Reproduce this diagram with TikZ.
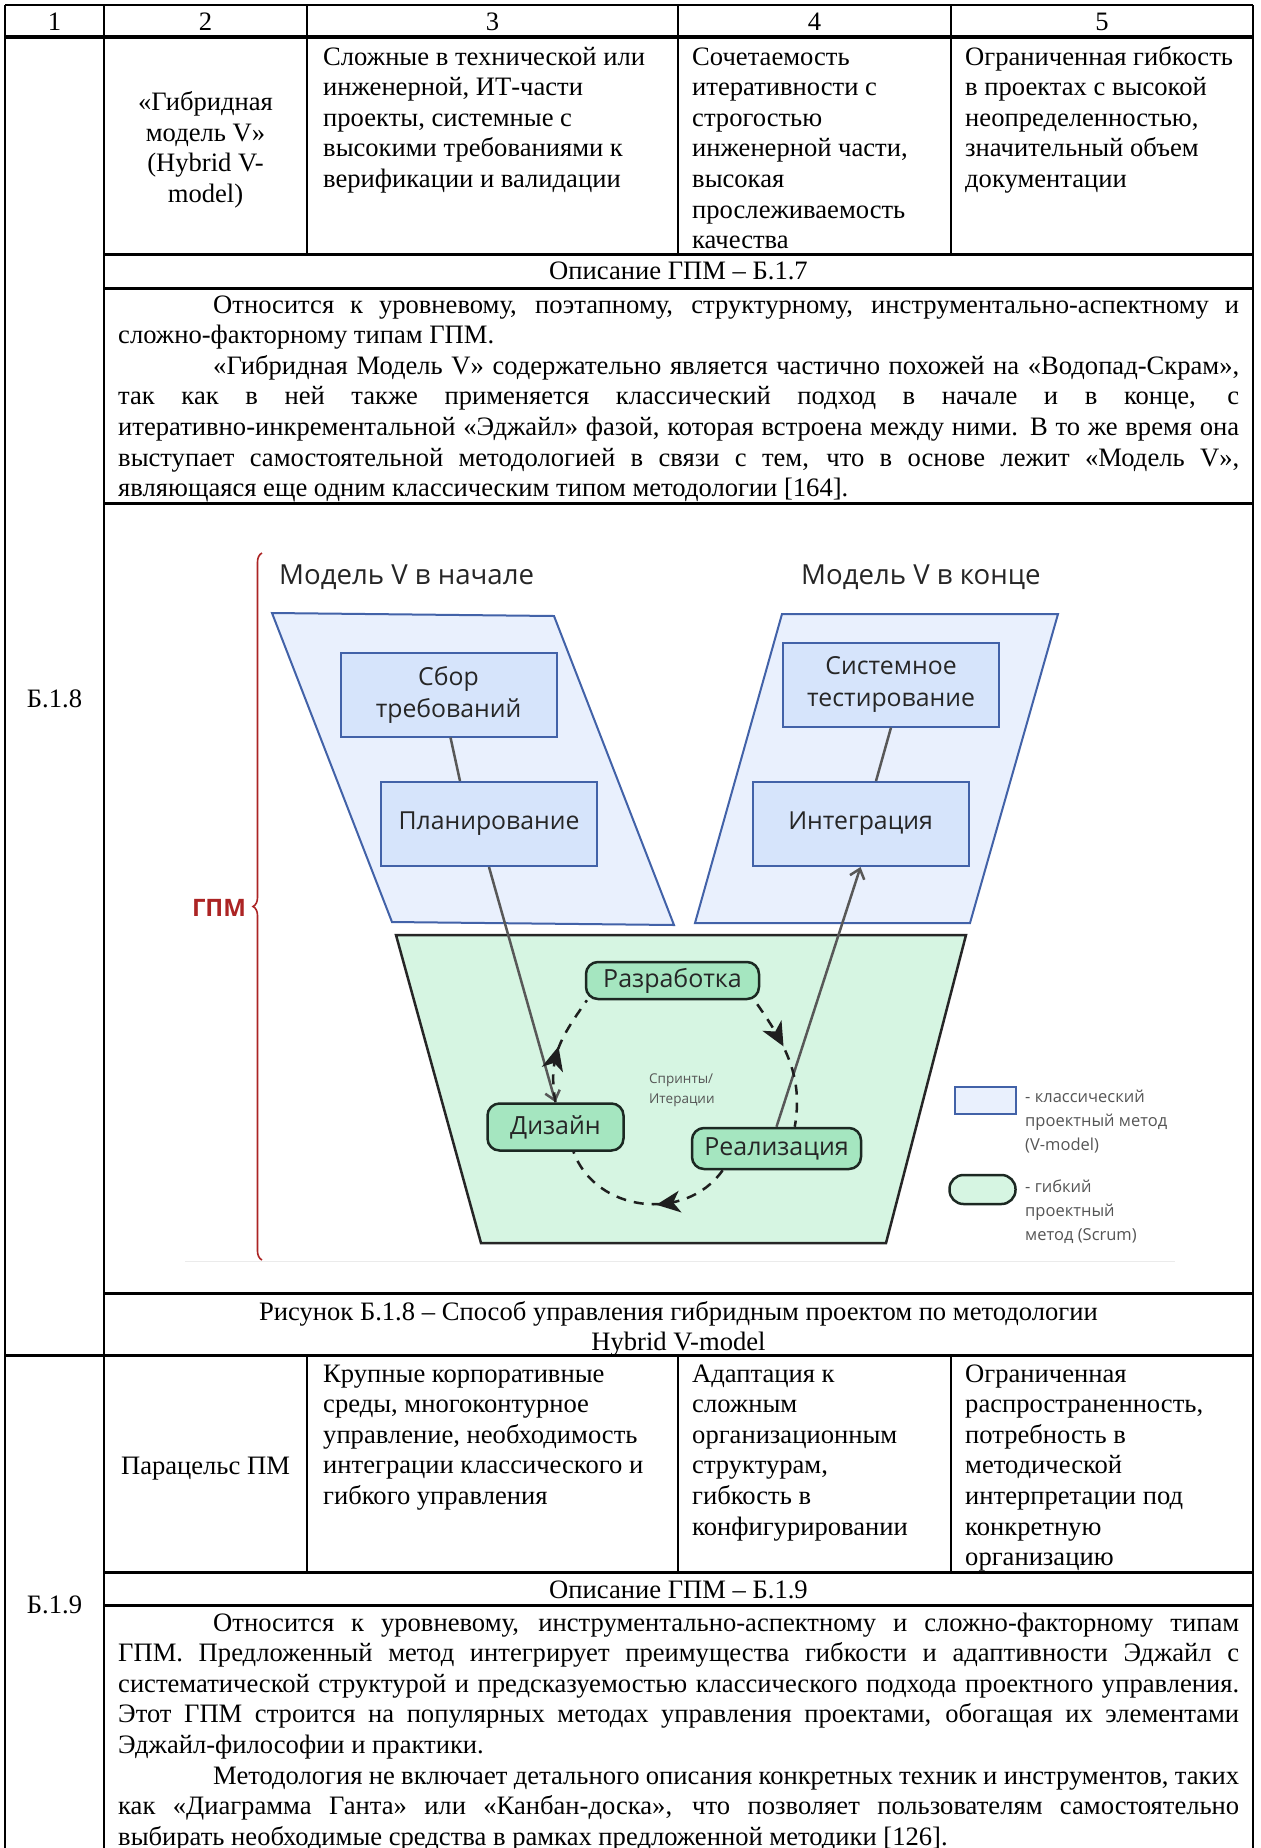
\documentclass[tikz,border=0pt]{standalone}
\usepackage{fontspec}
\setmainfont{Liberation Serif}
\newfontfamily\diagfont{Open Sans}
\usetikzlibrary{arrows.meta,decorations.pathreplacing,decorations.markings}

\definecolor{vfill}{RGB}{233,240,253}
\definecolor{vboxfill}{RGB}{214,228,251}
\definecolor{vblue}{RGB}{66,98,168}
\definecolor{gtrap}{RGB}{214,245,226}
\definecolor{gnodefill}{RGB}{165,230,192}
\definecolor{gdark}{RGB}{28,40,34}
\definecolor{connc}{RGB}{88,88,88}
\definecolor{gpmred}{RGB}{172,36,36}
\definecolor{dtext}{RGB}{38,38,38}
\definecolor{ltext}{RGB}{85,85,85}

\newcommand\tbfont{\fontsize{26.6pt}{30.6pt}\selectfont}
\newcommand\jline[1]{\makebox[1121pt][s]{#1}\\}
\newcommand\ind{\hspace*{95pt}}

\begin{document}
\begin{tikzpicture}[x=1pt,y=1pt,
  frame/.style={line width=2pt},
  hrule/.style={line width=3pt},
  hrulethick/.style={line width=4pt},
  tb/.style={font=\tbfont, inner sep=0pt},
  ttl/.style={font=\diagfont\fontsize{27.6pt}{32pt}\selectfont, text=dtext, inner sep=0pt},
  para/.style={draw=vblue, fill=vfill, line width=2pt, line join=miter},
  trap/.style={draw=black!85, fill=gtrap, line width=2.5pt},
  vbox/.style={draw=vblue, fill=vboxfill, line width=2pt, minimum width=216pt, minimum height=84pt, align=center, inner sep=0pt, text=dtext, font=\diagfont\fontsize{24.8pt}{32pt}\selectfont},
  gnode/.style={draw=gdark, fill=gnodefill, line width=2.5pt, rounded corners=12pt, inner sep=0pt, text=dtext, font=\diagfont\fontsize{25pt}{29pt}\selectfont},
  connl/.style={draw=connc, line width=2.5pt},
  connarrow/.style={draw=connc, line width=2.5pt, -{Straight Barb[length=9pt,width=15pt,line width=2.5pt]}},
  cyc/.style={draw=black!88, line width=2.5pt, dash pattern=on 10pt off 8pt},
  midarrow/.style={postaction={decorate}, decoration={markings, mark=at position #1 with {\fill[black!88, solid] (10pt,0pt) -- (-14pt,11pt) -- (-7pt,0pt) -- (-14pt,-11pt) -- cycle;}}},
  smalltext/.style={font=\diagfont\fontsize{13.5pt}{20pt}\selectfont, text=ltext, inner sep=0pt, align=left},
  legtext/.style={font=\diagfont\fontsize{16.5pt}{24pt}\selectfont, text=ltext, inner sep=0pt}
]
\useasboundingbox (0,0) rectangle (1261,-1848);
\fill[white] (0,0) rectangle (1261,-1848);

% ---------------- table lines ----------------
\draw[frame] (5,-5) -- (1253,-5);
\draw[frame] (5,-5) -- (5,-1848);
\draw[frame] (104,-5) -- (104,-1848);
\draw[frame] (1253,-5) -- (1253,-1848);
\draw[frame] (307,-5) -- (307,-254);
\draw[frame] (678,-5) -- (678,-254);
\draw[frame] (951,-5) -- (951,-254);
\draw[frame] (307,-1355) -- (307,-1572);
\draw[frame] (678,-1355) -- (678,-1572);
\draw[frame] (951,-1355) -- (951,-1572);
\draw[hrulethick] (5,-37) -- (1253,-37);
\draw[hrule] (104,-254) -- (1253,-254);
\draw[hrule] (104,-288) -- (1253,-288);
\draw[hrule] (104,-503) -- (1253,-503);
\draw[hrule] (104,-1293) -- (1253,-1293);
\draw[hrule] (5,-1355) -- (1253,-1355);
\draw[hrule] (104,-1572) -- (1253,-1572);
\draw[hrule] (104,-1605) -- (1253,-1605);

% ---------------- header ----------------
\node[tb, anchor=base] (h1) at (54.5,-30) {1};
\node[tb, anchor=base] (h2) at (205.5,-30) {2};
\node[tb, anchor=base] (h3) at (492.5,-30) {3};
\node[tb, anchor=base] (h4) at (814.5,-30) {4};
\node[tb, anchor=base] (h5) at (1102,-30) {5};

% ---------------- row B.1.8 ----------------
\node[tb, anchor=base] (b18) at (54.5,-707) {Б.1.8};
\node[tb, anchor=base] (c12) at (205.5,-110.5) {\parbox[t]{195pt}{\centering «Гибридная\\модель V»\\(Hybrid V-\\model)}};
\node[tb, anchor=base west] (c13) at (323,-65) {\parbox[t]{350pt}{Сложные в технической или\\инженерной, ИТ-части\\проекты, системные с\\высокими требованиями к\\верификации и валидации}};
\node[tb, anchor=base west] (c14) at (692,-65) {\parbox[t]{255pt}{Сочетаемость\\итеративности с\\строгостью\\инженерной части,\\высокая\\прослеживаемость\\качества}};
\node[tb, anchor=base west] (c15) at (965,-65) {\parbox[t]{285pt}{Ограниченная гибкость\\в проектах с высокой\\неопределенностью,\\значительный объем\\документации}};
\node[tb, anchor=base] (d17) at (678.5,-279) {Описание ГПМ – Б.1.7};
\node[tb, anchor=base west] (p17) at (118,-313) {\parbox[t]{1121pt}{%
\jline{\ind Относится к уровневому, поэтапному, структурному, инструментально-аспектному и}
сложно-факторному типам ГПМ.\\
\jline{\ind «Гибридная Модель V» содержательно является частично похожей на «Водопад-Скрам»,}
\jline{так как в ней также применяется классический подход в начале и в конце, с}
\jline{итеративно-инкрементальной «Эджайл» фазой, которая встроена между ними. В то же время она}
\jline{выступает самостоятельной методологией в связи с тем, что в основе лежит «Модель V»,}
являющаяся еще одним классическим типом методологии [164].}};

% ---------------- figure ----------------
\draw[black!8, line width=1pt] (185,-1261) -- (1175,-1261);
\draw[gpmred, line width=1.6pt, decorate, decoration={brace, amplitude=9pt}] (262,-1260) -- (262,-553);
\node[font=\diagfont\bfseries\fontsize{24pt}{28pt}\selectfont, text=gpmred, inner sep=0pt] (gpm) at (219,-908) {ГПМ};
\node[ttl, anchor=west] (tl) at (279,-577) {Модель V в начале};
\node[ttl, anchor=west] (tr) at (801,-577) {Модель V в конце};

\draw[para] (272,-613) -- (554,-616) -- (674,-925) -- (392,-922) -- cycle;
\draw[para] (782,-614) -- (1058,-614) -- (970,-923) -- (695,-923) -- cycle;
\draw[trap] (396,-935) -- (966,-935) -- (886,-1243) -- (481,-1243) -- cycle;

\node[vbox] (sbor) at (448.5,-694.5) {Сбор\\требований};
\node[vbox] (plan) at (489,-824) {Планирование};
\node[vbox] (sist) at (891,-684.5) {Системное\\тестирование};
\node[vbox] (integ) at (860.5,-824) {Интеграция};

\node[gnode, minimum width=173pt, minimum height=37pt] (razr) at (672.5,-980.5) {Разработка};
\node[gnode, minimum width=136pt, minimum height=47pt] (diz) at (555.5,-1127) {Дизайн};
\node[gnode, minimum width=169pt, minimum height=41pt] (real) at (776.5,-1148.5) {Реализация};
\node[smalltext, anchor=west] (spr) at (649,-1090) {Спринты/\\Итерации};

\draw[connl] ([xshift=2pt]sbor.south) -- ([xshift=-29pt]plan.north);
\draw[connl] (sist.south) -- ([xshift=15.5pt]integ.north);
\draw[connarrow] (plan.south) -- (diz.north);
\draw[connarrow] (real.north) -- (integ.south);

\draw[cyc, midarrow=0.3] ([xshift=-3pt,yshift=-4pt]razr.south east) to[out=-55,in=80] (real.50);
\draw[cyc, midarrow=0.37] (real.-158) to[out=-125,in=-70,looseness=1.1] (diz.-54);
\draw[cyc, midarrow=0.42] (diz.north) to[out=100,in=-125,looseness=1.1] (razr.-167);

% legend
\node[draw=vblue, fill=vfill, line width=2pt, minimum width=61pt, minimum height=27pt, inner sep=0pt] (lgb) at (985.5,-1100.5) {};
\node[draw=gdark, fill=gtrap, line width=2.5pt, minimum width=66pt, minimum height=29pt, rounded corners=14pt, inner sep=0pt] (lgg) at (982.5,-1189.5) {};
\node[legtext, anchor=base west] (lt1) at (1025,-1102) {\parbox[t]{200pt}{- классический\\проектный метод\\(V-model)}};
\node[legtext, anchor=base west] (lt2) at (1025,-1192) {\parbox[t]{200pt}{- гибкий\\проектный\\метод (Scrum)}};

% caption
\node[tb, anchor=base] (cap) at (678.5,-1320) {\parbox[t]{1100pt}{\centering Рисунок Б.1.8 – Способ управления гибридным проектом по методологии\\Hybrid V-model}};

% ---------------- row B.1.9 ----------------
\node[tb, anchor=base] (b19) at (54.5,-1613) {Б.1.9};
\node[tb, anchor=base] (c22) at (205.5,-1474) {Парацельс ПМ};
\node[tb, anchor=base west] (c23) at (323,-1382) {\parbox[t]{350pt}{Крупные корпоративные\\среды, многоконтурное\\управление, необходимость\\интеграции классического и\\гибкого управления}};
\node[tb, anchor=base west] (c24) at (692,-1382) {\parbox[t]{255pt}{Адаптация к\\сложным\\организационным\\структурам,\\гибкость в\\конфигурировании}};
\node[tb, anchor=base west] (c25) at (965,-1382) {\parbox[t]{285pt}{Ограниченная\\распространенность,\\потребность в\\методической\\интерпретации под\\конкретную\\организацию}};
\node[tb, anchor=base] (d19) at (678.5,-1598) {Описание ГПМ – Б.1.9};
\node[tb, anchor=base west] (p19) at (118,-1631) {\parbox[t]{1121pt}{%
\jline{\ind Относится к уровневому, инструментально-аспектному и сложно-факторному типам}
\jline{ГПМ. Предложенный метод интегрирует преимущества гибкости и адаптивности Эджайл с}
\jline{систематической структурой и предсказуемостью классического подхода проектного управления.}
\jline{Этот ГПМ строится на популярных методах управления проектами, обогащая их элементами}
Эджайл-философии и практики.\\
\jline{\ind Методология не включает детального описания конкретных техник и инструментов, таких}
\jline{как «Диаграмма Ганта» или «Канбан-доска», что позволяет пользователям самостоятельно}
выбирать необходимые средства в рамках предложенной методики [126].}};
\end{tikzpicture}
\end{document}
